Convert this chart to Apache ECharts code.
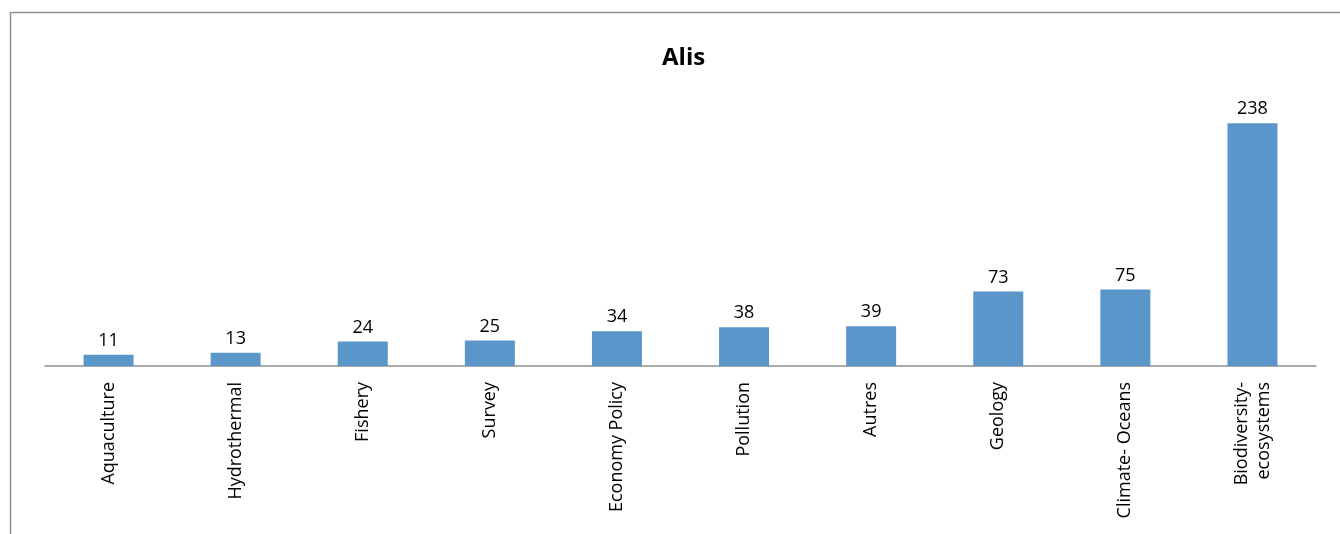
<!DOCTYPE html>
<html>
<head>
<meta charset="utf-8">
<script src="https://cdn.jsdelivr.net/npm/echarts@6/dist/echarts.min.js"></script>
<style>
html,body{margin:0;padding:0;background:#fff;}
#chart{width:1340px;height:534px;}
</style>
</head>
<body>
<div id="chart"></div>
<script>
const titleText = 'Alis';
const categories = ['Aquaculture', 'Hydrothermal', 'Fishery', 'Survey', 'Economy Policy', 'Pollution', 'Autres', 'Geology', 'Climate- Oceans', 'Biodiversity-\necosystems'];
const values = [11, 13, 24, 25, 34, 38, 39, 73, 75, 238];

const chart = echarts.init(document.getElementById('chart'));
chart.setOption({
  animation: false,
  backgroundColor: '#ffffff',
  graphic: [{
    type: 'rect',
    shape: { x: 10.5, y: 12.5, width: 1400, height: 600 },
    style: { fill: 'none', stroke: '#8e8e8e', lineWidth: 1.5 },
    silent: true
  }],
  title: {
    text: titleText,
    left: 657,
    top: 41,
    textStyle: { fontFamily: 'Open Sans', fontWeight: 'bold', fontSize: 24, color: '#000' }
  },
  grid: { left: 45, right: 24, top: 111, bottom: 168, containLabel: false },
  xAxis: {
    type: 'category',
    data: categories,
    axisLine: { show: true, lineStyle: { color: '#8e8e8e', width: 1.5 } },
    axisTick: { show: false },
    axisLabel: {
      interval: 0,
      rotate: 90,
      margin: 16,
      fontFamily: 'Open Sans',
      fontSize: 18,
      color: '#000',
      lineHeight: 22
    }
  },
  yAxis: {
    type: 'value',
    min: 0,
    max: 250,
    show: false,
    splitLine: { show: false }
  },
  series: [{
    type: 'bar',
    data: values,
    barWidth: 50,
    itemStyle: { color: '#5b96cb' },
    label: {
      show: true,
      position: 'top',
      distance: 5,
      fontFamily: 'Open Sans',
      fontSize: 18,
      color: '#000'
    }
  }]
});
</script>
</body>
</html>
